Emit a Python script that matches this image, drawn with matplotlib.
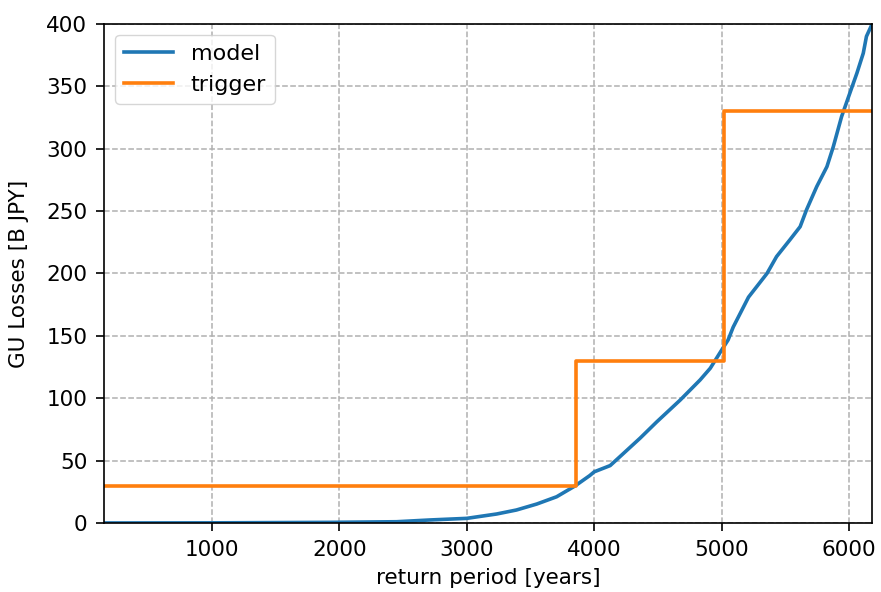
import matplotlib
matplotlib.use("Agg")
import matplotlib.pyplot as plt
import numpy as np

# modelled loss curve (return period in years, loss in B JPY)
model_rp = [155, 1000, 1930, 2450, 2710, 3000, 3235, 3390, 3550, 3705, 3850,
            3965, 4000, 4125, 4200, 4360, 4490, 4675, 4830, 4910, 5000, 5050,
            5090, 5210, 5355, 5430, 5535, 5615, 5665, 5745, 5825, 5875, 5940,
            5995, 6060, 6110, 6135, 6170, 6180]
model_loss = [0.0, 0.1, 0.5, 1.0, 2.4, 3.7, 7.2, 10.4, 15.2, 21.0, 29.7,
              38.0, 41.0, 46.0, 53.0, 68.0, 81.0, 98.6, 114.6, 124.0, 138.7, 146.7,
              157.0, 181.0, 200.0, 213.5, 227.0, 237.5, 251.0, 269.6, 285.6, 301.6, 325.7,
              341.7, 360.5, 376.5, 390.0, 397.8, 400.0]

# trigger levels as a step function
trigger_rp = [155, 3860, 3860, 5015, 5015, 6180]
trigger_loss = [30, 30, 130, 130, 330, 330]

fs = 15.5

fig = plt.figure(figsize=(8.81, 5.92), dpi=100)
ax = fig.add_axes([0.118, 0.1166, 0.872, 0.843])

ax.plot(model_rp, model_loss, color="#1f77b4", lw=2.6, label="model")
ax.plot(trigger_rp, trigger_loss, color="#ff7f0e", lw=2.6, label="trigger")

ax.set_xlim(155, 6180)
ax.set_ylim(0, 400)
ax.set_xticks([1000, 2000, 3000, 4000, 5000, 6000])
ax.set_yticks(np.arange(0, 401, 50))
ax.grid(True, linestyle="--", color="#b0b0b0", lw=1.1)

ax.tick_params(labelsize=fs, length=6, width=1.2, pad=6)
ax.set_xlabel("return period [years]", fontsize=fs, labelpad=6)
ax.set_ylabel("GU Losses [B JPY]", fontsize=fs, labelpad=12)
for s in ax.spines.values():
    s.set_linewidth(1.2)

ax.legend(loc="upper left", fontsize=16, handlelength=2.2)

fig.savefig("out.png", dpi=100)
